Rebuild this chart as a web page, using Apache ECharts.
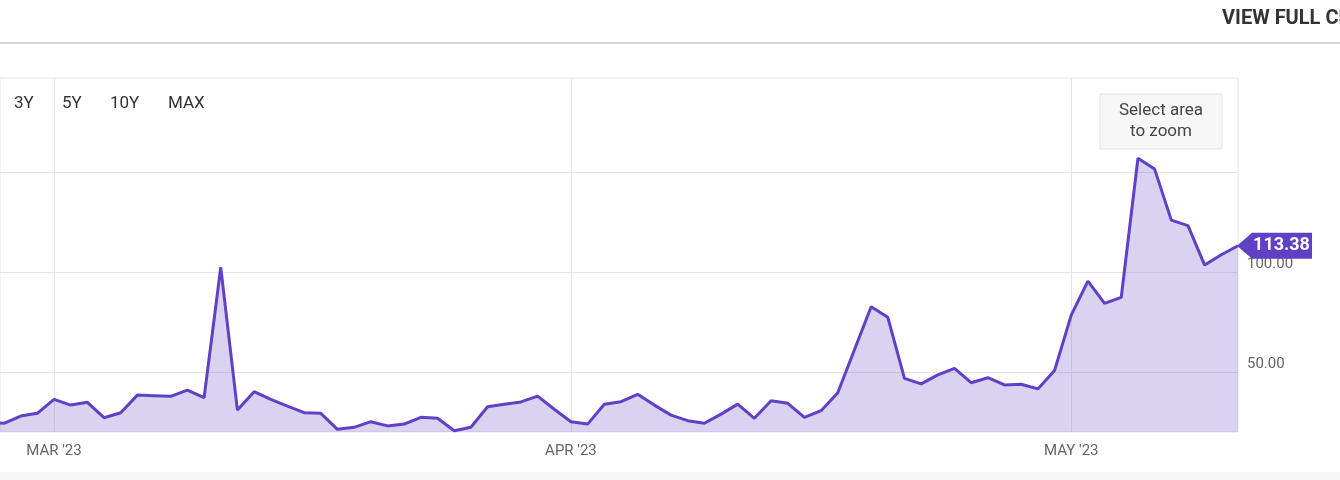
<!DOCTYPE html>
<html>
<head>
<meta charset="utf-8">
<script src="https://cdn.jsdelivr.net/npm/echarts@6/dist/echarts.min.js"></script>
<style>
html,body{margin:0;padding:0;background:#fff;}
#chart{width:1340px;height:480px;}
</style>
</head>
<body>
<div id="chart"></div>
<script>
// ---- data ----
const startDate = '2023-02-25';
const values = [
  25.3, 24.6, 28.2, 29.6,
  36.6, 33.7, 35.1, 27.4, 29.9, 38.7, 38.4, 38.1, 41.2, 37.4,
  102.6, 31.2, 40.4, 36.6, 33.2, 29.9, 29.6, 21.6, 22.6, 25.4,
  23.3, 24.2, 27.6, 27.1, 20.9, 22.6, 32.9, 34.1, 35.3, 38.2, 31.6,
  25.4, 24.2, 34.1, 35.4, 39.1, 33.7, 28.7, 25.9, 24.6, 29.2,
  34.2, 27.1, 35.9, 34.6, 27.6, 30.9, 39.9, 61.4, 82.9, 77.6,
  47.1, 44.3, 48.8, 52.1, 44.9, 47.4, 43.8, 44.1, 41.8, 51.0,
  78.7, 95.7, 84.6, 87.6, 157.1, 151.7, 126.2, 123.4, 103.7, 108.9, 113.38
];
const tickDates = ['2023-03-01', '2023-04-01', '2023-05-01'];
const tickLabels = ["MAR '23", "APR '23", "MAY '23"];
const yTickValues = [50, 100, 150];
const yLabelValues = [50, 100];
const rangeButtons = ['3Y', '5Y', '10Y', 'MAX'];

// ---- build ----
const DAY = 86400000;
function dayNum(s) { const p = s.split('-').map(Number); return Math.round(Date.UTC(p[0], p[1] - 1, p[2]) / DAY); }
const refDay = dayNum(tickDates[0]);           // x = days since 1 Mar 2023
const startX = dayNum(startDate) - refDay;
const seriesData = values.map((v, i) => [startX + i, v]);
const tickX = tickDates.map(d => dayNum(d) - refDay);
const xMin = -3.238;
const xMax = startX + values.length - 1;
const lastVal = values[values.length - 1];

const FONT = 'Roboto';
const chart = echarts.init(document.getElementById('chart'), null, { renderer: 'canvas' });

const buttonX = [14, 62, 110, 168];
const graphics = [
  { type: 'rect', shape: { x: 0, y: 42, width: 1340, height: 2 }, style: { fill: '#d6d6d6' }, silent: true },
  { type: 'rect', shape: { x: 0, y: 472, width: 1340, height: 8 }, style: { fill: '#f6f6f6' }, silent: true },
  { type: 'text', x: 1222, y: 19, style: { text: 'VIEW FULL CHART', font: 'bold 20px ' + FONT, fill: '#333', textVerticalAlign: 'middle' }, silent: true },
  { type: 'rect', shape: { x: 1100, y: 94, width: 122, height: 55 }, style: { fill: '#f7f7f7', stroke: '#e3e3e3', lineWidth: 1 }, silent: true, z: 10 },
  { type: 'text', x: 1161, y: 111, style: { text: 'Select area', font: '17px ' + FONT, fill: '#444', textAlign: 'center', textVerticalAlign: 'middle' }, silent: true, z: 11 },
  { type: 'text', x: 1161, y: 132, style: { text: 'to zoom', font: '17px ' + FONT, fill: '#444', textAlign: 'center', textVerticalAlign: 'middle' }, silent: true, z: 11 }
];
rangeButtons.forEach((b, i) => {
  graphics.push({ type: 'text', x: buttonX[i], y: 104, style: { text: b, font: '17px ' + FONT, fill: '#333', textVerticalAlign: 'middle' }, silent: true, z: 11 });
});

const option = {
  animation: false,
  backgroundColor: '#ffffff',
  grid: {
    left: 0, right: 102, top: 78, bottom: 48,
    show: true, borderColor: '#e6e6e6', borderWidth: 1,
    outerBoundsMode: 'none'
  },
  xAxis: {
    type: 'value',
    min: xMin,
    max: xMax,
    axisLine: { show: false },
    axisTick: { show: false, customValues: tickX },
    splitLine: { show: true, lineStyle: { color: '#e6e6e6', width: 1 } },
    axisLabel: {
      customValues: tickX,
      margin: 12,
      fontFamily: FONT,
      fontSize: 15,
      color: '#666',
      showMinLabel: true,
      showMaxLabel: true,
      formatter: function (v) {
        const idx = tickX.indexOf(v);
        return idx >= 0 ? tickLabels[idx] : '';
      }
    }
  },
  yAxis: {
    type: 'value',
    position: 'right',
    min: 20.25,
    max: 197.25,
    axisLine: { show: false },
    axisTick: { show: false, customValues: yTickValues },
    splitLine: { show: true, lineStyle: { color: '#e6e6e6', width: 1 } },
    axisLabel: {
      customValues: yLabelValues,
      margin: 9,
      fontFamily: FONT,
      fontSize: 15,
      color: '#666',
      verticalAlign: 'bottom',
      padding: [0, 0, 1, 0],
      formatter: function (v) { return Number(v).toFixed(2); }
    }
  },
  series: [{
    type: 'line',
    data: seriesData,
    symbol: 'none',
    clip: true,
    lineStyle: { color: '#6140c6', width: 3 },
    areaStyle: { color: 'rgba(100,66,196,0.34)' },
    z: 3,
    markPoint: {
      silent: true,
      symbol: 'path://M0,13 L15,0 L75,0 L75,26 L15,26 Z',
      symbolSize: [75, 26],
      symbolKeepAspect: false,
      symbolOffset: [36.5, 0],
      itemStyle: { color: '#6040c4' },
      label: {
        show: true,
        position: 'inside',
        offset: [7, 0],
        color: '#fff',
        fontFamily: FONT,
        fontWeight: 'bold',
        fontSize: 18,
        formatter: function () { return lastVal.toFixed(2); }
      },
      data: [{ coord: [xMax, lastVal] }]
    }
  }],
  graphic: graphics
};
chart.setOption(option);
</script>
</body>
</html>
